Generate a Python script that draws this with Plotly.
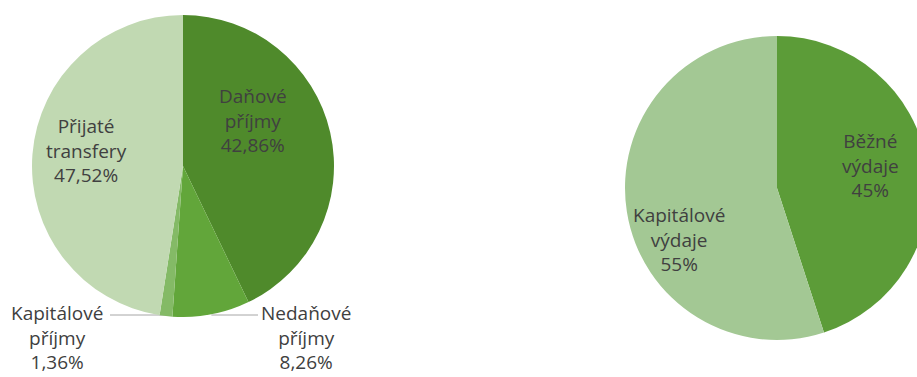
import math
import plotly.graph_objects as go

# ---- data ----
income_labels = ["Daňové příjmy", "Nedaňové příjmy", "Kapitálové příjmy", "Přijaté transfery"]
income_values = [42.86, 8.26, 1.36, 47.52]
income_colors = ["#4f8a2b", "#62a63a", "#84ba66", "#c1d9b2"]

expense_labels = ["Běžné výdaje", "Kapitálové výdaje"]
expense_values = [45, 55]
expense_colors = ["#5c9c38", "#a3c894"]

# ---- layout constants (pixels) ----
W, H = 930, 377   # slightly wider than the window: right pie is clipped as in the reference
FONT = "Open Sans"
FS = 19
TXT = "#404040"

L_CX, L_CY, L_R = 183, 166, 151
R_CX, R_CY, R_R = 777, 188, 152


def px(x):
    return x / W


def py(y):
    return 1 - y / H


def fmt(v, dec):
    s = f"{v:.{dec}f}".replace(".", ",")
    return s + "%"


def label_text(name, v, dec):
    words = name.split(" ")
    return "<br>".join(words + [fmt(v, dec)])


fig = go.Figure()

fig.add_trace(go.Pie(
    labels=income_labels, values=income_values, sort=False, direction="clockwise",
    rotation=0, marker=dict(colors=income_colors, line=dict(width=0)),
    textinfo="none", hoverinfo="label+percent", showlegend=False,
    domain=dict(x=[px(L_CX - L_R), px(L_CX + L_R)], y=[py(L_CY + L_R), py(L_CY - L_R)]),
))

fig.add_trace(go.Pie(
    labels=expense_labels, values=expense_values, sort=False, direction="clockwise",
    rotation=0, marker=dict(colors=expense_colors, line=dict(width=0)),
    textinfo="none", hoverinfo="label+percent", showlegend=False,
    domain=dict(x=[px(R_CX - R_R), min(1.0, px(R_CX + R_R))], y=[py(R_CY + R_R), py(R_CY - R_R)]),
))

# label positions (pixels) for each slice label
income_label_pos = [(253, 120), (306, 337), (57, 337), (86, 150)]
expense_label_pos = [(870, 165), (679, 239)]

annotations = []
for name, v, (x, y) in zip(income_labels, income_values, income_label_pos):
    annotations.append(dict(x=px(x), y=py(y), xref="paper", yref="paper", showarrow=False,
                            text=label_text(name, v, 2), font=dict(family=FONT, size=FS, color=TXT),
                            align="center", xanchor="center", yanchor="middle", borderpad=0))
for name, v, (x, y) in zip(expense_labels, expense_values, expense_label_pos):
    annotations.append(dict(x=px(x), y=py(y), xref="paper", yref="paper", showarrow=False,
                            text=label_text(name, v, 0), font=dict(family=FONT, size=FS, color=TXT),
                            align="center", xanchor="center", yanchor="middle", borderpad=0))

# leader lines for the two small slices: from slice mid-edge to label
shapes = []
cum = 0
total = sum(income_values)
mids = []
for v in income_values:
    mids.append((cum + v / 2) / total * 2 * math.pi)
    cum += v
leader_ends = {1: 258, 2: 110}
for i, xend in leader_ends.items():
    a = mids[i]
    ex = L_CX + L_R * math.sin(a)
    shapes.append(dict(type="line", xref="paper", yref="paper", layer="below",
                       x0=px(ex), y0=py(315), x1=px(xend), y1=py(315),
                       line=dict(color="#a6a6a6", width=1)))

fig.update_layout(
    width=W, height=H, margin=dict(l=0, r=0, t=0, b=0),
    paper_bgcolor="white", plot_bgcolor="white",
    annotations=annotations, shapes=shapes,
    font=dict(family=FONT),
)

fig.write_html(
    "out.html",
    config={"displayModeBar": False},
    post_script="document.body.style.margin='0';document.body.style.overflow='hidden';",
)
